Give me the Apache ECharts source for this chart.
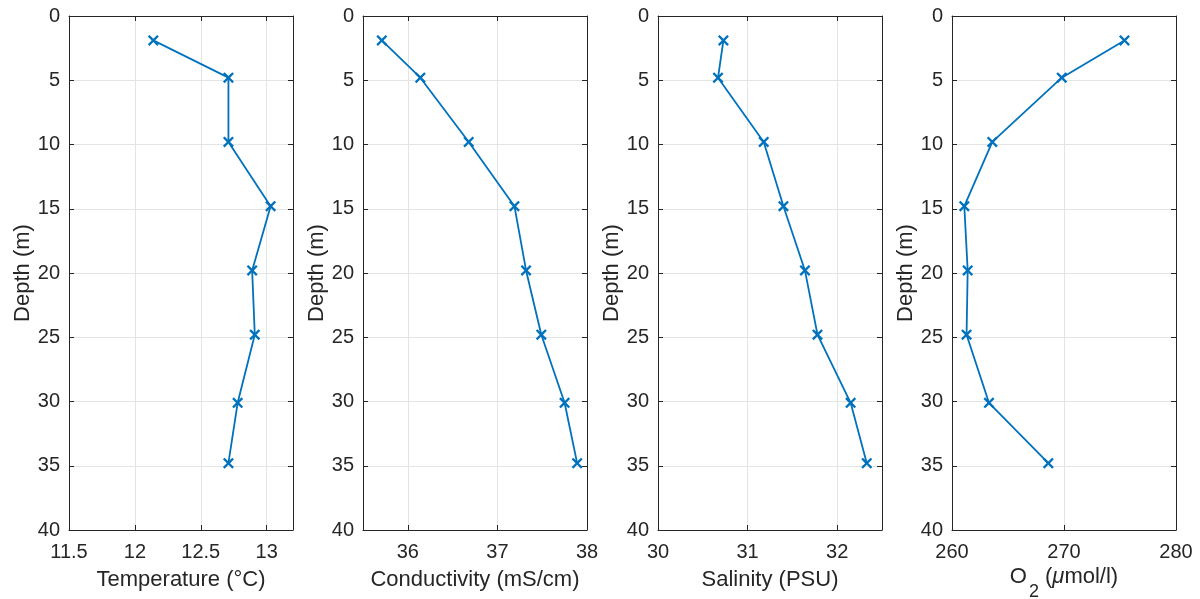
<!DOCTYPE html>
<html>
<head>
<meta charset="utf-8">
<script src="https://cdn.jsdelivr.net/npm/echarts@6/dist/echarts.min.js"></script>
<style>
html,body{margin:0;padding:0;background:#fff;}
#chart{width:1200px;height:599px;}
</style>
</head>
<body>
<div id="chart"></div>
<script>
// ---- data ----
const depth = [1.9, 4.8, 9.8, 14.8, 19.8, 24.8, 30.1, 34.8];
const temperature = [12.14, 12.71, 12.71, 13.03, 12.89, 12.91, 12.78, 12.71];
const conductivity = [35.71, 36.14, 36.68, 37.19, 37.32, 37.49, 37.75, 37.89];
const salinity = [30.73, 30.67, 31.18, 31.40, 31.64, 31.78, 32.15, 32.33];
const oxygen = [275.4, 269.8, 263.6, 261.1, 261.4, 261.3, 263.3, 268.6];

const depthTicks = [0, 5, 10, 15, 20, 25, 30, 35, 40];
const tempTicks = [11.5, 12, 12.5, 13];
const condTicks = [36, 37, 38];
const salTicks = [30, 31, 32];
const oxyTicks = [260, 270, 280];

const xLabels = ['Temperature (°C)', 'Conductivity (mS/cm)', 'Salinity (PSU)', '{m|O}{sub|2}{m| (}{it|μ}{m|mol/l)}'];
const yLabel = 'Depth (m)';

// ---- chart ----
const AX = '#262626';
const GRIDC = '#e4e4e4';
const LINE = '#0072BD';
const FONT = '"Liberation Sans", Arial, sans-serif';

const panels = [
  { values: temperature, min: 11.5, max: 13.2, ticks: tempTicks, left: 69, gap: 39 },
  { values: conductivity, min: 35.5, max: 38, ticks: condTicks, left: 363, gap: 39 },
  { values: salinity, min: 30, max: 32.5, ticks: salTicks, left: 658, gap: 39 },
  { values: oxygen, min: 260, max: 280, ticks: oxyTicks, left: 952, gap: 36 }
];

const grids = [], xAxes = [], yAxes = [], series = [];
const crossPath = 'path://M0,1.5L1.5,0L5,3.5L8.5,0L10,1.5L6.5,5L10,8.5L8.5,10L5,6.5L1.5,10L0,8.5L3.5,5Z';

panels.forEach((p, i) => {
  grids.push({ left: p.left, top: 16, width: 224, height: 514, outerBoundsMode: 'none', containLabel: false });
  xAxes.push({
    type: 'value', gridIndex: i, position: 'bottom', min: p.min, max: p.max,
    name: xLabels[i], nameLocation: 'middle', nameGap: p.gap, nameMoveOverlap: false,
    nameTextStyle: {
      color: AX, fontSize: 22, fontFamily: FONT, lineHeight: 22,
      rich: {
        m: { fontSize: 22, fontFamily: FONT, color: AX, lineHeight: 22 },
        sub: { fontSize: 18, fontFamily: FONT, color: AX, lineHeight: 18, padding: [31, 0, 0, 2] },
        it: { fontSize: 22, fontFamily: FONT, color: AX, fontStyle: 'italic', lineHeight: 22 }
      }
    },
    axisLine: { show: true, onZero: false, lineStyle: { color: AX, width: 1 } },
    axisTick: { show: true, inside: true, length: 5, lineStyle: { color: AX }, customValues: p.ticks },
    axisLabel: { show: true, color: AX, fontSize: 20, fontFamily: FONT, margin: 12, customValues: p.ticks },
    splitLine: { show: true, lineStyle: { color: GRIDC, width: 1 } }
  });
  xAxes.push({
    type: 'value', gridIndex: i, position: 'top', min: p.min, max: p.max,
    axisLine: { show: true, onZero: false, lineStyle: { color: AX, width: 1 } },
    axisTick: { show: true, inside: true, length: 5, lineStyle: { color: AX }, customValues: p.ticks },
    axisLabel: { show: false },
    splitLine: { show: false }
  });
  yAxes.push({
    type: 'value', gridIndex: i, position: 'left', inverse: true, min: 0, max: 40, interval: 5,
    name: yLabel, nameLocation: 'middle', nameGap: 35, nameRotate: 90, nameMoveOverlap: false,
    nameTextStyle: { color: AX, fontSize: 22, fontFamily: FONT },
    axisLine: { show: true, onZero: false, lineStyle: { color: AX, width: 1 } },
    axisTick: { show: true, inside: true, length: 5, lineStyle: { color: AX }, customValues: depthTicks },
    axisLabel: { show: true, color: AX, fontSize: 20, fontFamily: FONT, margin: 9, customValues: depthTicks },
    splitLine: { show: true, lineStyle: { color: GRIDC, width: 1 } }
  });
  yAxes.push({
    type: 'value', gridIndex: i, position: 'right', inverse: true, min: 0, max: 40, interval: 5,
    axisLine: { show: true, onZero: false, lineStyle: { color: AX, width: 1 } },
    axisTick: { show: true, inside: true, length: 5, lineStyle: { color: AX }, customValues: depthTicks },
    axisLabel: { show: false },
    splitLine: { show: false }
  });
  series.push({
    type: 'line', xAxisIndex: 2 * i, yAxisIndex: 2 * i,
    data: p.values.map((v, k) => [v, depth[k]]),
    symbol: crossPath, symbolSize: 11, showAllSymbol: true,
    lineStyle: { color: LINE, width: 1.8 },
    itemStyle: { color: LINE, borderWidth: 0 },
    emphasis: { disabled: true },
    animation: false
  });
});

const chart = echarts.init(document.getElementById('chart'), null, { renderer: 'canvas' });
chart.setOption({
  backgroundColor: '#ffffff',
  animation: false,
  grid: grids,
  xAxis: xAxes,
  yAxis: yAxes,
  series: series
});
</script>
</body>
</html>
